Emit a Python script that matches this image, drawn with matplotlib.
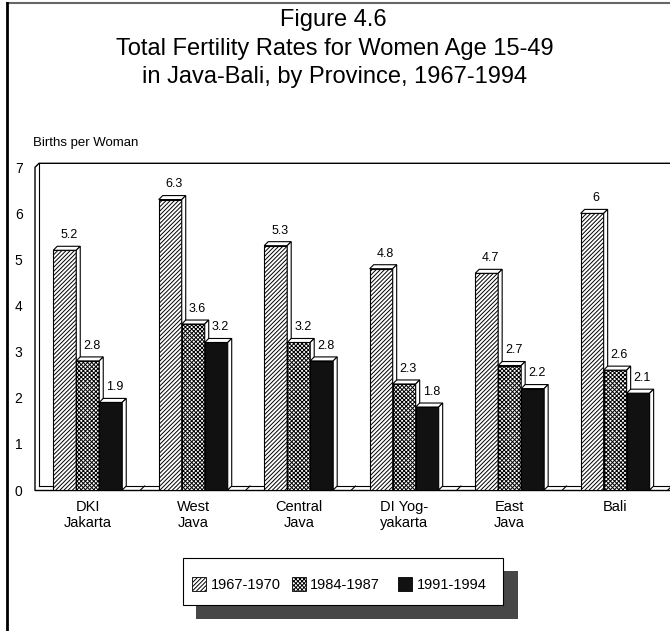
import matplotlib
matplotlib.use("Agg")
import matplotlib.pyplot as plt
from matplotlib.patches import Polygon, Rectangle
from matplotlib.lines import Line2D

# data
provinces = ["DKI\nJakarta", "West\nJava", "Central\nJava", "DI Yog-\nyakarta", "East\nJava", "Bali"]
periods = ["1967-1970", "1984-1987", "1991-1994"]
tfr_1967 = [5.2, 6.3, 5.3, 4.8, 4.7, 6.0]
tfr_1984 = [2.8, 3.6, 3.2, 2.3, 2.7, 2.6]
tfr_1991 = [1.9, 3.2, 2.8, 1.8, 2.2, 2.1]
value_labels = [["5.2", "6.3", "5.3", "4.8", "4.7", "6"],
                ["2.8", "3.6", "3.2", "2.3", "2.7", "2.6"],
                ["1.9", "3.2", "2.8", "1.8", "2.2", "2.1"]]
yticks = [0, 1, 2, 3, 4, 5, 6, 7]

plt.rcParams['font.family'] = ['Liberation Sans', 'DejaVu Sans']
plt.rcParams['hatch.linewidth'] = 0.7

W, H = 670, 631
fig = plt.figure(figsize=(W / 100, H / 100), dpi=100)


def fx(x):
    return x / W


def fy(y):
    return 1 - y / H


# axes placed in pixel terms: left 35, right 670, floor at 490, top 160
ax = fig.add_axes([fx(35), fy(490), fx(670 - 35), (490 - 160) / H])
ax.set_xlim(-0.5, 5.52)
ax.set_ylim(0, (490 - 160) / 46.1)
for s in ax.spines.values():
    s.set_visible(False)

dx = 4 / 105.5   # depth of 3d effect in x units
dy = 4 / 46.1    # depth in y units
bw = 0.218

series = [tfr_1967, tfr_1984, tfr_1991]
styles = [dict(facecolor="white", hatch="////////"),
          dict(facecolor="white", hatch="xxxxxxxx"),
          dict(facecolor="#111111", hatch=None)]
offsets = [-bw, 0, bw]

# floor and walls
xr = ax.get_xlim()[1]
ax.plot([-0.5, xr], [0, 0], color="black", lw=1, clip_on=False, zorder=1)
ax.plot([-0.5 + dx, xr], [dy, dy], color="black", lw=0.8, clip_on=False, zorder=1)
ax.plot([-0.5, -0.5, -0.5 + dx, xr], [0, 7, 7 + dy, 7 + dy], color="black", lw=1, clip_on=False, zorder=1)
ax.plot([-0.5 + dx, -0.5 + dx], [dy, 7 + dy], color="black", lw=0.8, clip_on=False, zorder=1)
for i in range(len(provinces)):
    xb = i + 0.5
    ax.plot([xb, xb + dx], [0, dy], color="black", lw=0.8, zorder=1)

z = 2
for i in range(len(provinces)):
    for k, vals in enumerate(series):
        v = vals[i]
        x0 = i + offsets[k] - bw / 2
        x1 = x0 + bw
        ax.bar(i + offsets[k], v, width=bw, edgecolor="black", linewidth=0.8, zorder=z, **styles[k])
        top = Polygon([(x0, v), (x0 + dx, v + dy), (x1 + dx, v + dy), (x1, v)],
                      closed=True, facecolor="white", edgecolor="black", lw=0.8, zorder=z)
        side = Polygon([(x1, 0), (x1, v), (x1 + dx, v + dy), (x1 + dx, dy)],
                       closed=True, facecolor="white", edgecolor="black", lw=0.8, zorder=z)
        ax.add_patch(top)
        ax.add_patch(side)
        ax.annotate(value_labels[k][i], (i + offsets[k] + dx / 2 + 0.02, v + dy),
                    xytext=(0, 8), textcoords="offset points", ha="center", va="center",
                    fontsize=9, zorder=z + 1)
        z += 1

ax.set_yticks(yticks)
ax.set_yticklabels([str(t) for t in yticks], fontsize=10)
ax.set_xticks(range(len(provinces)))
ax.set_xticklabels(provinces, fontsize=10.5, linespacing=1.25)
ax.tick_params(axis="y", length=0, pad=9)
ax.tick_params(axis="x", length=0, pad=7)

fig.text(fx(33), fy(143), "Births per Woman", fontsize=9.5, ha="left", va="center")

# titles
fig.text(fx(333), fy(20), "Figure 4.6", fontsize=17, ha="center", va="center")
fig.text(fx(335), fy(49), "Total Fertility Rates for Women Age 15-49", fontsize=17, ha="center", va="center")
fig.text(fx(335), fy(77), "in Java-Bali, by Province, 1967-1994", fontsize=17, ha="center", va="center")

# legend with drop shadow
fig.patches.append(Rectangle((fx(196), fy(619)), fx(518 - 196), (619 - 571) / H,
                             transform=fig.transFigure, facecolor="#474747", edgecolor="none"))
fig.patches.append(Rectangle((fx(183), fy(605)), fx(503 - 183), (605 - 558) / H,
                             transform=fig.transFigure, facecolor="white", edgecolor="black", lw=0.8))
sq_x = [192, 292, 398]
txt_x = [211, 310, 417]
for k in range(3):
    fig.patches.append(Rectangle((fx(sq_x[k]), fy(591)), fx(14), 14 / H, transform=fig.transFigure,
                                 edgecolor="black", linewidth=0.6, **styles[k]))
    fig.text(fx(txt_x[k]), fy(585), periods[k], fontsize=10.5, ha="left", va="center")

# page frame
fig.add_artist(Line2D([fx(7), fx(670)], [fy(3), fy(3)], transform=fig.transFigure, color="#666666", lw=1.5))
fig.add_artist(Line2D([fx(7), fx(7)], [fy(3), fy(631)], transform=fig.transFigure, color="black", lw=2))

fig.savefig("out.png", dpi=100)
